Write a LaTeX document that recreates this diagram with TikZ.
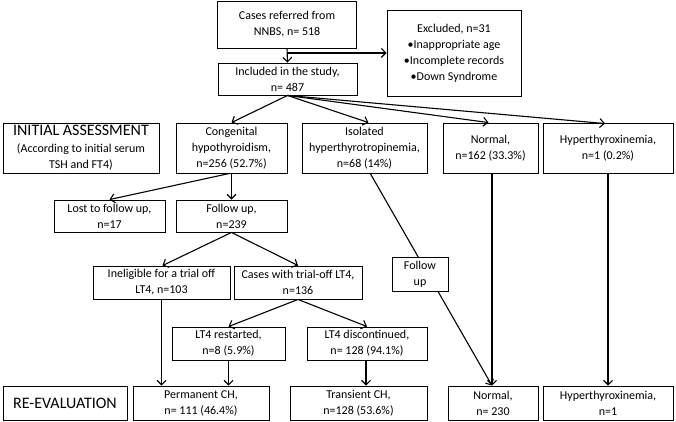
\documentclass[tikz,border=0pt]{standalone}
\usepackage{fontspec}
\setmainfont{Carlito}
\usetikzlibrary{arrows.meta,calc}
\begin{document}
\begin{tikzpicture}[x=1pt,y=-1pt,
  box/.style={draw,line width=0.9pt,align=center,inner sep=1pt,font=\fontsize{12}{16}\selectfont},
  big/.style={draw,line width=0.9pt,align=center,inner sep=1pt},
  arr/.style={line width=1.1pt,-{Straight Barb[length=4.5pt,width=9pt,line width=1.1pt]}}]
\useasboundingbox (0,0) rectangle (676,422);
\node[box,minimum width=139pt,minimum height=47pt] (cases) at (287,24.5) {Cases referred from\\NNBS, n= 518};
\node[box,minimum width=134pt,minimum height=86pt] (excl) at (454,53) {Excluded, n=31\\\textbullet Inappropriate age\\\textbullet Incomplete records\\\textbullet Down Syndrome};
\node[box,minimum width=139pt,minimum height=32pt] (incl) at (287.5,79) {Included in the study,\\n= 487};
\node[box,minimum width=156pt,minimum height=50pt] (init) at (81,148) {{\fontsize{16}{18}\selectfont INITIAL ASSESSMENT}\\[1pt](According to initial serum\\TSH and FT4)};
\node[box,minimum width=111pt,minimum height=50pt] (cong) at (231.5,148) {Congenital\\hypothyroidism,\\n=256 (52.7\%)};
\node[box,minimum width=125pt,minimum height=50pt] (iso) at (364.5,148) {Isolated\\hyperthyrotropinemia,\\n=68 (14\%)};
\node[box,minimum width=95pt,minimum height=50pt] (norm1) at (490.5,148) {Normal,\\n=162 (33.3\%)};
\node[box,minimum width=130pt,minimum height=50pt] (hyp1) at (608,148) {Hyperthyroxinemia,\\n=1 (0.2\%)};
\node[box,minimum width=111pt,minimum height=32pt] (lost) at (109.5,216) {Lost to follow up,\\n=17};
\node[box,minimum width=111pt,minimum height=32pt] (fu) at (231.5,216) {Follow up,\\n=239};
\node[box,minimum width=137pt,minimum height=33pt] (inel) at (161.5,282.5) {Ineligible for a trial off\\LT4, n=103};
\node[box,minimum width=128pt,minimum height=33pt] (trial) at (298,282.5) {Cases with trial-off LT4,\\n=136};
\node[box,minimum width=113pt,minimum height=33pt] (restart) at (228.5,343.5) {LT4 restarted,\\n=8 (5.9\%)};
\node[box,minimum width=120pt,minimum height=33pt] (disc) at (367,343.5) {LT4 discontinued,\\n= 128 (94.1\%)};
\node[big,minimum width=124pt,minimum height=34pt,font=\fontsize{16}{18}\selectfont] (reeval) at (65,403) {RE-EVALUATION};
\node[box,minimum width=136pt,minimum height=34pt] (perm) at (201,403) {Permanent CH,\\n= 111 (46.4\%)};
\node[box,minimum width=137pt,minimum height=34pt] (trans) at (358.5,403) {Transient CH,\\n=128 (53.6\%)};
\node[box,minimum width=90pt,minimum height=34pt] (norm2) at (493,403) {Normal,\\n= 230};
\node[box,minimum width=130pt,minimum height=34pt] (hyp2) at (608,403) {Hyperthyroxinemia,\\n=1};
% connectors
\coordinate (split) at (287,53);
\draw[arr] (cases.south) -- (incl.north);
\draw[arr] (split) -- (split -| excl.west);
\draw[arr] (incl.south) -- (cong.north);
\draw[arr] (incl.south) -- ([xshift=4pt]iso.north);
\draw[arr] (incl.south) -- ([xshift=-2pt]norm1.north);
\draw[arr] (incl.south) -- ([xshift=-3pt,yshift=-1pt]hyp1.north);
\draw[arr] (cong.south) -- (fu.north);
\draw[arr] ([xshift=-2pt]cong.south) -- (lost.north);
\draw[arr] (fu.south) -- ([xshift=1pt]inel.north);
\draw[arr] (fu.south) -- (trial.north);
\draw[arr] (trial.south) -- (restart.north);
\draw[arr] (trial.south) -- (disc.north);
\draw[arr] (inel.south) -- (inel.south |- perm.north);
\draw[arr] (restart.south) -- (restart.south |- perm.north);
\draw[arr] ([xshift=-1pt]disc.south) -- ([xshift=-1pt]disc.south |- trans.north);
\draw[arr] ([xshift=1.5pt]norm1.south) -- ([xshift=1.5pt]norm1.south |- norm2.north);
\draw[arr] (hyp1.south) -- (hyp2.north);
\coordinate (isob) at (370,173);
\draw[arr] (isob) -- ([xshift=-1pt]norm2.north);
\node[box,fill=white,minimum width=56pt,minimum height=34pt] (fulab) at (420,274) {Follow\\up};
\end{tikzpicture}
\end{document}
